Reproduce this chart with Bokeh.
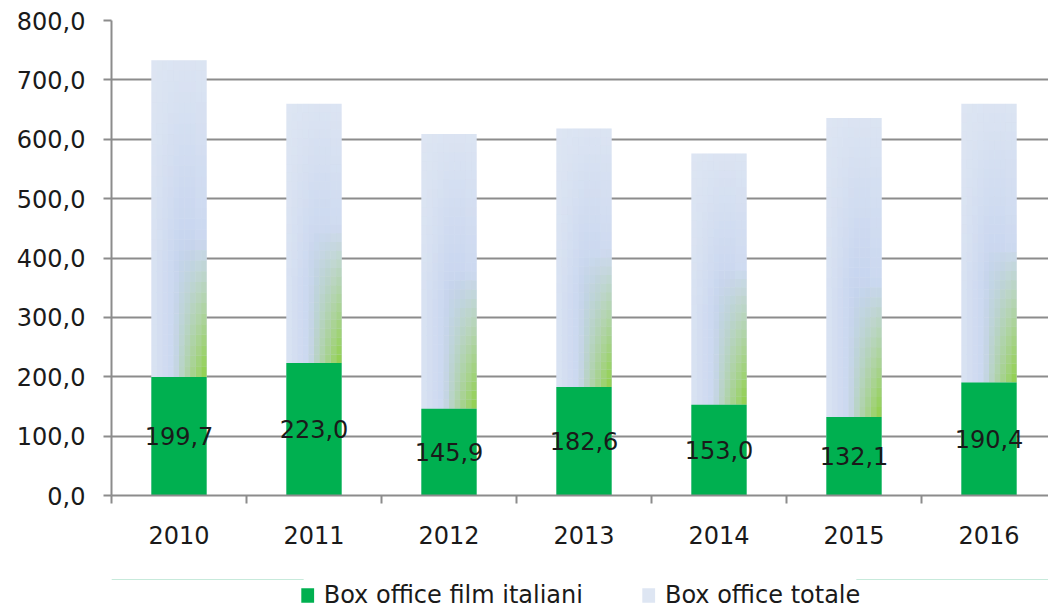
from bokeh.plotting import figure
from bokeh.layouts import column
from bokeh.models import (ColumnDataSource, FixedTicker, CustomJSTickFormatter,
                          Legend, LegendItem, Range1d)
from bokeh.core.properties import value
from bokeh.embed import file_html
from bokeh.resources import INLINE

# ---- data ----
years = ["2010", "2011", "2012", "2013", "2014", "2015", "2016"]
italiani = [199.7, 223.0, 145.9, 182.6, 153.0, 132.1, 190.4]
totale = [733.0, 660.0, 609.0, 618.0, 576.0, 636.0, 660.0]
y_ticks = [0, 100, 200, 300, 400, 500, 600, 700, 800]
series_names = ["Box office film italiani", "Box office totale"]

FONT = "DejaVu Sans"
FS = "24px"
GREEN = "#00b050"
LIGHT = "#dee6f3"
BLUE = "#c2d1ee"
LIME = "#92d050"
GRID = "#8c8c8c"
TXT = "#1a1a1a"
BAR_W = 0.41
FADE = 230.0   # height of the green glow above the green bar (data units)

xs = list(range(len(years)))
labels = [f"{v:.1f}".replace(".", ",") for v in italiani]
mids = [v / 2 for v in italiani]
src = ColumnDataSource(dict(x=xs, it=italiani, tot=totale, lab=labels, mid=mids))

FW, FH = 937, 475
p = figure(frame_width=FW, frame_height=FH, output_backend="svg",
           toolbar_location=None,
           x_range=Range1d(-0.5, -0.5 + FW / 135), y_range=Range1d(0, 800),
           min_border_left=111, min_border_right=0, min_border_top=20,
           min_border_bottom=70)
p.outline_line_color = None

# total bars (base)
p.vbar(x="x", top="tot", bottom=0, width=BAR_W, source=src,
       fill_color=LIGHT, line_color=None)

# soft shading of the total bars, built from the data
half = BAR_W / 2
M, N = 10, 30
bl, br, bb, bt, ba = [], [], [], [], []
gl, gr, gb, gt, ga = [], [], [], [], []
for x, it, tot in zip(xs, italiani, totale):
    for i in range(M):
        u = (i + 0.5) / M
        left = x - half + BAR_W * i / M
        right = x - half + BAR_W * (i + 1) / M
        hb = min(1.0, 0.15 + u / 0.5 * 0.85) if u < 0.85 else 0.85
        hg = max(0.0, (u - 0.4) / 0.6)
        for j in range(N):
            y0 = it + (tot - it) * j / N
            y1 = it + (tot - it) * (j + 1) / N
            t = ((y0 + y1) / 2) / tot
            vb = 1.0 if t < 0.55 else max(0.1, 1 - (t - 0.55) / 0.45 * 0.9)
            bl.append(left); br.append(right); bb.append(y0); bt.append(y1)
            ba.append(0.85 * hb * vb)
            d = (y0 + y1) / 2 - it
            vg = max(0.0, 1 - d / FADE) ** 1.1
            if hg * vg > 0:
                gl.append(left); gr.append(right); gb.append(y0); gt.append(y1)
                ga.append(min(1.0, 1.1 * hg * vg))

p.quad(left=bl, right=br, bottom=bb, top=bt, fill_color=BLUE,
       fill_alpha=ba, line_color=None)
p.quad(left=gl, right=gr, bottom=gb, top=gt, fill_color=LIME,
       fill_alpha=ga, line_color=None)

# Italian films bars
p.vbar(x="x", top="it", bottom=0, width=BAR_W, source=src,
       fill_color=GREEN, line_color=None)

# data labels
p.text(x="x", y="mid", text="lab", source=src, text_align="center",
       text_baseline="middle", text_font=value(FONT), text_font_size=FS,
       text_color=TXT)

# axes
p.xaxis.ticker = FixedTicker(ticks=xs, minor_ticks=[x - 0.5 for x in xs] + [xs[-1] + 0.5])
p.xaxis.major_label_overrides = {x: y for x, y in zip(xs, years)}
p.xaxis.major_tick_out = 0
p.xaxis.major_tick_in = 0
p.xaxis.minor_tick_out = 8
p.xaxis.minor_tick_in = 0
p.xaxis.minor_tick_line_color = GRID
p.xaxis.minor_tick_line_width = 2
p.xaxis.axis_line_color = GRID
p.xaxis.axis_line_width = 2
p.xaxis.major_label_standoff = 22
p.xaxis.major_label_text_font = FONT
p.xaxis.major_label_text_font_size = FS
p.xaxis.major_label_text_color = TXT
p.xgrid.grid_line_color = None

p.yaxis.ticker = FixedTicker(ticks=y_ticks)
p.yaxis.formatter = CustomJSTickFormatter(code="return tick.toFixed(1).replace('.', ',');")
p.yaxis.major_tick_out = 8
p.yaxis.major_tick_in = 0
p.yaxis.minor_tick_line_color = None
p.yaxis.major_tick_line_color = GRID
p.yaxis.major_tick_line_width = 2
p.yaxis.axis_line_color = GRID
p.yaxis.axis_line_width = 2
p.yaxis.major_label_standoff = 18
p.yaxis.major_label_text_font = FONT
p.yaxis.major_label_text_font_size = FS
p.yaxis.major_label_text_color = TXT
p.ygrid.grid_line_color = GRID
p.ygrid.grid_line_width = 2
p.ygrid.ticker = FixedTicker(ticks=y_ticks)

# ---- legend strip (separate figure below the chart) ----
q = figure(width=1048, height=46, output_backend="svg", toolbar_location=None,
           x_range=Range1d(0, 1), y_range=Range1d(-10, -5),
           x_axis_location=None, y_axis_location=None,
           min_border_left=38, min_border_right=0, min_border_top=14,
           min_border_bottom=0)
q.outline_line_color = None
q.xgrid.grid_line_color = None
q.ygrid.grid_line_color = None
lg_it = q.vbar(x="x", top="it", bottom=0, width=BAR_W, source=src,
               fill_color=GREEN, line_color=None)
lg_tot = q.vbar(x="x", top="tot", bottom=0, width=BAR_W, source=src,
                fill_color=LIGHT, line_color=None)

legend = Legend(items=[LegendItem(label=series_names[0], renderers=[lg_it]),
                       LegendItem(label=series_names[1], renderers=[lg_tot])],
                orientation="horizontal", location="center",
                label_text_font=FONT, label_text_font_size=FS,
                label_text_color=TXT, glyph_width=16, glyph_height=18,
                label_standoff=9, spacing=57, border_line_color=None,
                background_fill_alpha=0, padding=0, margin=0)
q.add_layout(legend, "center")

layout = column(p, q, spacing=0)
open("out.html", "w").write(file_html(layout, INLINE))
